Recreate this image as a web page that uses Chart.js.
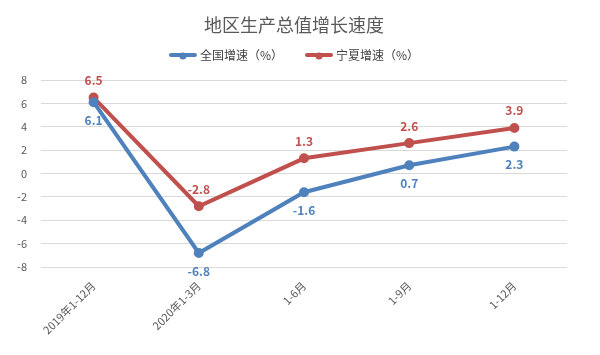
<!DOCTYPE html>
<html><head><meta charset="utf-8">
<script src="https://cdn.jsdelivr.net/npm/chart.js@4/dist/chart.umd.min.js"></script>
<style>html,body{margin:0;padding:0;background:#fff}</style>
</head><body>
<canvas id="c" width="600" height="355"></canvas>
<script>
const categories = ['2019年1-12月', '2020年1-3月', '1-6月', '1-9月', '1-12月'];
const nationalGrowth = [6.1, -6.8, -1.6, 0.7, 2.3];
const ningxiaGrowth = [6.5, -2.8, 1.3, 2.6, 3.9];
const yTicks = [-8, -6, -4, -2, 0, 2, 4, 6, 8];
const seriesNames = ['全国增速（%）', '宁夏增速（%）'];
const chartTitle = '地区生产总值增长速度';
const BLUE = '#4F81BD', RED = '#C0504D';
const FONT = '"Noto Sans CJK SC", "Noto Sans", sans-serif';

const headerPlugin = {
  id: 'header',
  afterDraw(chart) {
    const ctx = chart.ctx;
    ctx.save();
    ctx.textBaseline = 'middle';
    ctx.textAlign = 'center';
    ctx.fillStyle = '#595959';
    ctx.font = '18px ' + FONT;
    ctx.fillText(chartTitle, 294, 25);
    // legend
    ctx.font = '12px ' + FONT;
    ctx.textAlign = 'left';
    const items = chart.data.datasets.map(ds => ({ text: ds.label, color: ds.borderColor }));
    const iconW = 28, gapIconText = 3, gapItems = 22;
    let total = 0;
    items.forEach((it, i) => {
      it.w = ctx.measureText(it.text).width;
      total += iconW + gapIconText + it.w + (i < items.length - 1 ? gapItems : 0);
    });
    let x = 294 - total / 2;
    const y = 55;
    items.forEach(it => {
      ctx.strokeStyle = it.color; ctx.lineWidth = 4; ctx.lineCap = 'round';
      ctx.beginPath(); ctx.moveTo(x + 2, y); ctx.lineTo(x + iconW - 2, y); ctx.stroke();
      ctx.fillStyle = it.color; ctx.beginPath(); ctx.arc(x + iconW / 2, y + 1, 3.5, 0, Math.PI * 2); ctx.fill();
      ctx.fillStyle = '#404040';
      ctx.fillText(it.text, x + iconW + gapIconText, y);
      x += iconW + gapIconText + it.w + gapItems;
    });
    ctx.restore();
  }
};

const labelPlugin = {
  id: 'valueLabels',
  afterDatasetsDraw(chart) {
    const ctx = chart.ctx;
    ctx.save();
    ctx.font = 'bold 12px ' + FONT;
    ctx.textAlign = 'center';
    ctx.textBaseline = 'middle';
    chart.data.datasets.forEach((ds, i) => {
      const meta = chart.getDatasetMeta(i);
      meta.data.forEach((pt, j) => {
        const v = ds.data[j];
        ctx.fillStyle = ds.borderColor;
        const dy = i === 0 ? 18 : -17;
        ctx.fillText(v.toFixed(1), pt.x, pt.y + dy);
      });
    });
    ctx.restore();
  }
};

new Chart(document.getElementById('c'), {
  type: 'line',
  data: {
    labels: categories,
    datasets: [
      { label: seriesNames[0], data: nationalGrowth, borderColor: BLUE, backgroundColor: BLUE,
        borderWidth: 4, pointRadius: 3, pointHoverRadius: 3, pointStyle: 'circle', tension: 0 },
      { label: seriesNames[1], data: ningxiaGrowth, borderColor: RED, backgroundColor: RED,
        borderWidth: 4, pointRadius: 3, pointHoverRadius: 3, pointStyle: 'circle', tension: 0 }
    ]
  },
  options: {
    responsive: false,
    animation: false,
    layout: { padding: { left: 0, right: 33, top: 80, bottom: 0 } },
    plugins: {
      title: { display: false },
      legend: { display: false },
      tooltip: { enabled: false }
    },
    scales: {
      x: {
        offset: true,
        grid: { display: false },
        border: { display: false },
        ticks: { color: '#595959', font: { family: FONT, size: 11 }, minRotation: 45, maxRotation: 45, padding: 4 },
        afterFit(s) { s.height = 88; }
      },
      y: {
        min: -8, max: 8,
        afterBuildTicks(s) { s.ticks = yTicks.map(v => ({ value: v })); },
        grid: { color: '#D9D9D9', drawTicks: false },
        border: { display: false },
        ticks: { color: '#595959', font: { family: FONT, size: 11 }, padding: 14 },
        afterFit(s) { s.width = 41; }
      }
    }
  },
  plugins: [labelPlugin, headerPlugin]
});
</script>
</body></html>
